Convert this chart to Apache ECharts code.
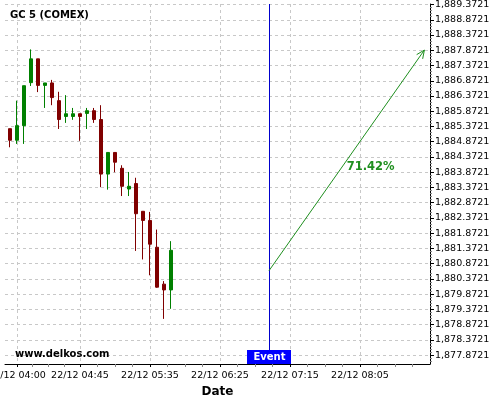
<!DOCTYPE html>
<html>
<head>
<meta charset="utf-8">
<script src="https://cdn.jsdelivr.net/npm/echarts@6/dist/echarts.min.js"></script>
<style>
  html, body { margin: 0; padding: 0; background: #fff; }
  #chart { width: 500px; height: 400px; }
</style>
</head>
<body>
<div id="chart"></div>
<script>
// candles, 5 min each, 22/12
const times  = ['03:55','04:00','04:05','04:10','04:15','04:20','04:25','04:30','04:35','04:40','04:45','04:50',
                '04:55','05:00','05:05','05:10','05:15','05:20','05:25','05:30','05:35','05:40','05:45','05:50'];
const opens  = [1885.30,1884.92,1885.40,1886.81,1887.59,1886.72,1886.80,1886.22,1885.70,1885.70,1885.79,1885.80,
                1885.89,1885.60,1883.81,1884.52,1884.00,1883.32,1883.50,1882.59,1882.29,1881.41,1880.20,1880.01];
const closes = [1884.92,1885.40,1886.71,1887.59,1886.72,1886.80,1886.32,1885.60,1885.79,1885.79,1885.70,1885.89,
                1885.60,1883.81,1884.52,1884.20,1883.41,1883.41,1882.51,1882.29,1881.51,1880.10,1880.01,1881.31];
const lows   = [1884.69,1884.80,1884.80,1886.70,1886.50,1885.98,1886.07,1885.29,1885.49,1885.59,1884.90,1885.29,
                1885.49,1883.38,1883.30,1883.87,1883.09,1883.09,1881.29,1881.01,1880.49,1880.08,1879.06,1879.39];
const highs  = [1885.30,1886.22,1886.71,1887.90,1887.59,1886.80,1886.90,1886.51,1886.40,1885.98,1885.79,1885.98,
                1885.98,1886.07,1884.52,1884.52,1884.10,1883.88,1883.69,1882.59,1882.57,1881.99,1880.30,1881.61];

const yTicks = [1877.8721,1878.3721,1878.8721,1879.3721,1879.8721,1880.3721,1880.8721,1881.3721,
                1881.8721,1882.3721,1882.8721,1883.3721,1883.8721,1884.3721,1884.8721,1885.3721,
                1885.8721,1886.3721,1886.8721,1887.3721,1887.8721,1888.3721,1888.8721,1889.3721];
const xLabelTimes = ['04:00','04:45','05:35','06:25','07:15','08:05'];
const xMinorTimes = ['04:11:15','04:22:30','04:33:45','04:57:30','05:10','05:22:30','05:47:30','06:00','06:12:30',
                     '06:37:30','06:50','07:02:30','07:27:30','07:40','07:52:30','08:17:30','08:30','08:42:30'];

const eventTime = '07:00';
const arrowFrom = ['07:00', 1880.64];
const arrowTo   = ['08:51', 1887.88];
const arrowText = '71.42%';

const xMin = '03:51:26', xMax = '08:55';
const yMin = 1877.58, yMax = 1889.39;

function toMin(s) {
  const p = s.split(':').map(Number);
  return p[0] * 60 + p[1] + (p[2] || 0) / 60;
}
function fmtTime(v) {
  const h = Math.floor(v / 60), m = Math.round(v % 60);
  return '22/12 ' + String(h).padStart(2, '0') + ':' + String(m).padStart(2, '0');
}
function fmtPrice(v) {
  return Number(v).toLocaleString('en-US', {minimumFractionDigits: 4, maximumFractionDigits: 4});
}

const candles = times.map((t, i) => [toMin(t), opens[i], closes[i], lows[i], highs[i]]);
const xMajor = xLabelTimes.map(toMin);
const yMinor = [];
[1877.3721].concat(yTicks).forEach(t => {
  [0.1, 0.2, 0.3, 0.4].forEach(d => {
    const v = t + d;
    if (v > yMin && v < yMax) yMinor.push(v);
  });
});

const font = '"DejaVu Sans", Verdana, sans-serif';
const green = '#1f8f1f';
const gridLine = {show: true, lineStyle: {color: '#c8c8c8', type: [3, 3], width: 1}};

let chart = echarts.init(document.getElementById('chart'));
let option = {
  animation: false,
  backgroundColor: '#fff',
  title: [
    {text: 'GC 5 (COMEX)', left: 10, top: 10, padding: 0,
     textStyle: {fontSize: 10, fontWeight: 'bold', color: '#000', fontFamily: font}},
    {text: 'www.delkos.com', left: 15, top: 349, padding: 0,
     textStyle: {fontSize: 10, fontWeight: 'bold', color: '#000', fontFamily: font}}
  ],
  grid: {left: 5, right: 70, top: 4, bottom: 36, containLabel: false, outerBoundsMode: 'none'},
  xAxis: [
    {
      type: 'value', position: 'bottom', min: toMin(xMin), max: toMin(xMax),
      name: 'Date', nameLocation: 'middle', nameGap: 20,
      nameTextStyle: {fontSize: 12, fontWeight: 'bold', color: '#000', fontFamily: font},
      axisLine: {show: true, lineStyle: {color: '#000', width: 1}},
      axisTick: {show: true, customValues: xMajor, length: 3, lineStyle: {color: '#000'}},
      axisLabel: {customValues: xMajor, formatter: fmtTime, fontSize: 9.5, color: '#000', fontFamily: font, margin: 7},
      splitLine: gridLine
    },
    {
      type: 'value', position: 'bottom', min: toMin(xMin), max: toMin(xMax),
      axisLine: {show: false},
      axisTick: {show: true, customValues: xMinorTimes.map(toMin), length: 3, lineStyle: {color: '#888'}},
      axisLabel: {show: false},
      splitLine: {show: false}
    }
  ],
  yAxis: [
    {
      type: 'value', position: 'right', min: yMin, max: yMax, scale: true,
      axisLine: {show: true, lineStyle: {color: '#000', width: 1}},
      axisTick: {show: true, customValues: yTicks, length: 4, lineStyle: {color: '#000'}},
      axisLabel: {customValues: yTicks, formatter: fmtPrice, fontSize: 9.5, color: '#000', fontFamily: font, margin: 5},
      splitLine: gridLine
    },
    {
      type: 'value', position: 'right', min: yMin, max: yMax, scale: true,
      axisLine: {show: false},
      axisTick: {show: true, customValues: yMinor, length: 2, lineStyle: {color: '#888'}},
      axisLabel: {show: false},
      splitLine: {show: false}
    }
  ],
  series: [
    {
      type: 'candlestick',
      xAxisIndex: 0, yAxisIndex: 0,
      data: candles,
      encode: {x: 0, y: [1, 2, 3, 4]},
      barWidth: 4,
      itemStyle: {color: '#008000', color0: '#800000', borderColor: '#008000', borderColor0: '#800000', borderWidth: 1},
      emphasis: {disabled: true}
    },
    {
      type: 'custom',
      xAxisIndex: 0, yAxisIndex: 0,
      data: [[toMin(arrowFrom[0]), arrowFrom[1]]],
      clip: false,
      silent: true,
      renderItem: function (params, api) {
        const cs = params.coordSys;
        const ex = Math.round(api.coord([toMin(eventTime), yMin])[0]) + 0.5;
        const bottom = cs.y + cs.height;
        const p0 = api.coord([toMin(arrowFrom[0]), arrowFrom[1]]);
        const p1 = api.coord([toMin(arrowTo[0]), arrowTo[1]]);
        const ang = Math.atan2(p1[1] - p0[1], p1[0] - p0[0]);
        const head = 9, spread = 0.42;
        const h1 = [p1[0] - head * Math.cos(ang - spread), p1[1] - head * Math.sin(ang - spread)];
        const h2 = [p1[0] - head * Math.cos(ang + spread), p1[1] - head * Math.sin(ang + spread)];
        const mid = [(p0[0] + p1[0]) / 2, (p0[1] + p1[1]) / 2];
        return {
          type: 'group',
          children: [
            {type: 'line', shape: {x1: ex, y1: cs.y, x2: ex, y2: bottom},
             style: {stroke: '#0000cc', lineWidth: 1}},
            {type: 'rect', shape: {x: ex - 22.5, y: bottom - 14, width: 44, height: 14},
             style: {fill: '#0000ff'}},
            {type: 'text', style: {text: 'Event', x: ex, y: bottom - 7, fill: '#fff',
              font: 'bold 10px ' + font, align: 'center', verticalAlign: 'middle',
              textAlign: 'center', textVerticalAlign: 'middle'}},
            {type: 'polyline', shape: {points: [p0, p1]},
             style: {stroke: green, lineWidth: 1, fill: null}},
            {type: 'polyline', shape: {points: [h1, p1, h2]},
             style: {stroke: green, lineWidth: 1, fill: null}},
            {type: 'text', style: {text: arrowText, x: mid[0], y: mid[1] + 7, fill: green,
              font: 'bold 11.5px ' + font, align: 'left', verticalAlign: 'middle',
              textAlign: 'left', textVerticalAlign: 'middle'}}
          ]
        };
      }
    }
  ]
};
option && chart.setOption(option);
</script>
</body>
</html>
